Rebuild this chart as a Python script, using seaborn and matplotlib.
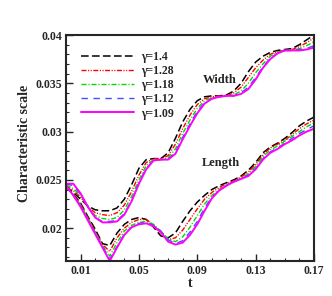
import matplotlib
matplotlib.use('Agg')
import matplotlib.pyplot as plt
import seaborn as sns
from matplotlib.ticker import MultipleLocator, FuncFormatter
from matplotlib.lines import Line2D


# Time axis, shared by all curves
t = [0.000, 0.005, 0.010, 0.015, 0.020, 0.025, 0.030, 0.035, 0.040, 0.045,
     0.050, 0.055, 0.060, 0.065, 0.070, 0.075, 0.080, 0.085, 0.090, 0.095,
     0.100, 0.105, 0.110, 0.115, 0.120, 0.125, 0.130, 0.135, 0.140, 0.145,
     0.150, 0.155, 0.160, 0.165, 0.170]

gamma_labels = ['γ=1.4', 'γ=1.28', 'γ=1.18', 'γ=1.12', 'γ=1.09']

# Width (upper group)
width_140 = [.0243, .0237, .0230, .0223, .0219, .0218, .0218, .0221, .0230, .0245,
             .0262, .0271, .0272, .0272, .0278, .0293, .0310, .0323, .0332, .0336,
             .0337, .0337, .0338, .0342, .0350, .0362, .0372, .0378, .0382, .0384,
             .0385, .0386, .0390, .0395, .0400]
width_128 = [.0244, .0239, .0232, .0222, .0216, .0214, .0213, .0216, .0224, .0238,
             .0255, .0268, .0272, .0272, .0275, .0287, .0303, .0317, .0328, .0334,
             .0336, .0337, .0337, .0340, .0346, .0356, .0366, .0374, .0380, .0383,
             .0384, .0385, .0388, .0392, .0397]
width_118 = [.0245, .0241, .0234, .0222, .0213, .0210, .0209, .0211, .0219, .0233,
             .0250, .0265, .0271, .0271, .0273, .0282, .0298, .0312, .0324, .0332,
             .0335, .0336, .0337, .0338, .0342, .0350, .0361, .0370, .0378, .0382,
             .0384, .0384, .0386, .0389, .0393]
width_112 = [.0246, .0244, .0235, .0222, .0211, .0207, .0207, .0208, .0215, .0229,
             .0247, .0262, .0270, .0271, .0271, .0279, .0294, .0308, .0321, .0330,
             .0334, .0336, .0337, .0337, .0340, .0346, .0356, .0367, .0376, .0381,
             .0384, .0384, .0385, .0386, .0389]
width_109 = [.0246, .0246, .0236, .0222, .0211, .0206, .0206, .0207, .0214, .0228,
             .0246, .0261, .0270, .0271, .0271, .0277, .0292, .0306, .0319, .0329,
             .0334, .0336, .0337, .0337, .0339, .0344, .0354, .0366, .0375, .0381,
             .0384, .0384, .0384, .0385, .0387]

# Length (lower group)
length_140 = [.0243, .0235, .0226, .0212, .0199, .0184, .0182, .0195, .0204, .0209,
              .0211, .0209, .0201, .0192, .0190, .0195, .0207, .0218, .0227, .0234,
              .0240, .0244, .0247, .0250, .0254, .0260, .0268, .0278, .0284, .0288,
              .0293, .0299, .0306, .0311, .0315]
length_128 = [.0243, .0235, .0225, .0211, .0197, .0183, .0176, .0190, .0200, .0206,
              .0209, .0209, .0203, .0194, .0188, .0190, .0198, .0209, .0220, .0230,
              .0237, .0242, .0246, .0249, .0253, .0258, .0266, .0276, .0283, .0287,
              .0291, .0297, .0303, .0308, .0312]
length_118 = [.0243, .0234, .0224, .0210, .0196, .0182, .0171, .0185, .0197, .0203,
              .0206, .0207, .0204, .0197, .0189, .0186, .0191, .0201, .0213, .0225,
              .0234, .0240, .0245, .0248, .0252, .0256, .0264, .0274, .0281, .0285,
              .0290, .0295, .0300, .0305, .0309]
length_112 = [.0244, .0234, .0223, .0209, .0195, .0181, .0168, .0181, .0194, .0201,
              .0205, .0206, .0203, .0197, .0188, .0184, .0187, .0196, .0207, .0221,
              .0232, .0239, .0244, .0248, .0251, .0255, .0262, .0272, .0279, .0283,
              .0288, .0293, .0298, .0302, .0306]
length_109 = [.0244, .0234, .0222, .0208, .0194, .0180, .0166, .0180, .0193, .0201,
              .0204, .0205, .0202, .0196, .0186, .0183, .0185, .0193, .0204, .0218,
              .0231, .0239, .0244, .0248, .0251, .0254, .0261, .0271, .0278, .0282,
              .0287, .0291, .0296, .0300, .0303]

width_series = [width_140, width_128, width_118, width_112, width_109]
length_series = [length_140, length_128, length_118, length_112, length_109]

# Цвета и штрихи как в Tecplot
colors = ['#000000', '#ff0000', '#00d800', '#4a4aff', '#ff00ff']
line_styles = [
    (0, (5.5, 2.4)),
    (0, (3.6, 1.1, 0.8, 1.1, 0.8, 1.1)),
    (0, (3.6, 1.4, 0.8, 1.4)),
    (0, (4.6, 4.0)),
    '-',
]
line_widths = [1.1, 1.0, 1.0, 1.0, 1.4]


sns.set_style('ticks')
plt.rcParams.update({
    'font.family': ['Liberation Serif', 'DejaVu Serif'],
    'font.weight': 'bold',
    'axes.labelweight': 'bold',
    'lines.scale_dashes': False,
    'xtick.direction': 'in',
    'ytick.direction': 'in',
    'axes.linewidth': 1.5,
})

fig = plt.figure(figsize=(3.32, 2.96), dpi=100)
ax = fig.add_axes([66 / 332, 35 / 296, 248 / 332, 226 / 296])

for i in range(5):
    sns.lineplot(x=t, y=width_series[i], ax=ax, color=colors[i],
                 linestyle=line_styles[i], linewidth=line_widths[i])
    sns.lineplot(x=t, y=length_series[i], ax=ax, color=colors[i],
                 linestyle=line_styles[i], linewidth=line_widths[i])

ax.set_xlim(0.0, 0.17)
ax.set_ylim(0.0166, 0.04)

ax.xaxis.set_major_locator(MultipleLocator(0.04, offset=0.01))
ax.xaxis.set_minor_locator(MultipleLocator(0.01))
ax.yaxis.set_major_locator(MultipleLocator(0.005))
ax.yaxis.set_minor_locator(MultipleLocator(0.001))
ax.xaxis.set_major_formatter(FuncFormatter(lambda v, p: f'{v:g}'))
ax.yaxis.set_major_formatter(FuncFormatter(lambda v, p: f'{round(v, 4):g}'))

ax.tick_params(which='major', length=5, width=1.0, labelsize=8.5, pad=3)
ax.tick_params(which='minor', length=2.5, width=0.8)
for lab in ax.get_xticklabels() + ax.get_yticklabels():
    lab.set_fontweight('bold')

ax.set_xlabel('t', fontsize=10, labelpad=0)
ax.set_ylabel('Characteristic scale', fontsize=10)
ax.yaxis.set_label_coords(-0.14, 0.52)

ax.text(0.1053, 0.03536, 'Width', fontsize=9, fontweight='bold',
        ha='center', va='center')
ax.text(0.106, 0.02675, 'Length', fontsize=9, fontweight='bold',
        ha='center', va='center')

handles = [Line2D([], [], color=colors[i], linestyle=line_styles[i],
                  linewidth=line_widths[i]) for i in range(5)]
ax.legend(handles, gamma_labels, loc='upper left', bbox_to_anchor=(0.03, 0.96),
          frameon=False, fontsize=8.5, handlelength=4.5, handletextpad=0.65,
          labelspacing=0.18, borderaxespad=0.2)

fig.savefig('out.png', dpi=100)
